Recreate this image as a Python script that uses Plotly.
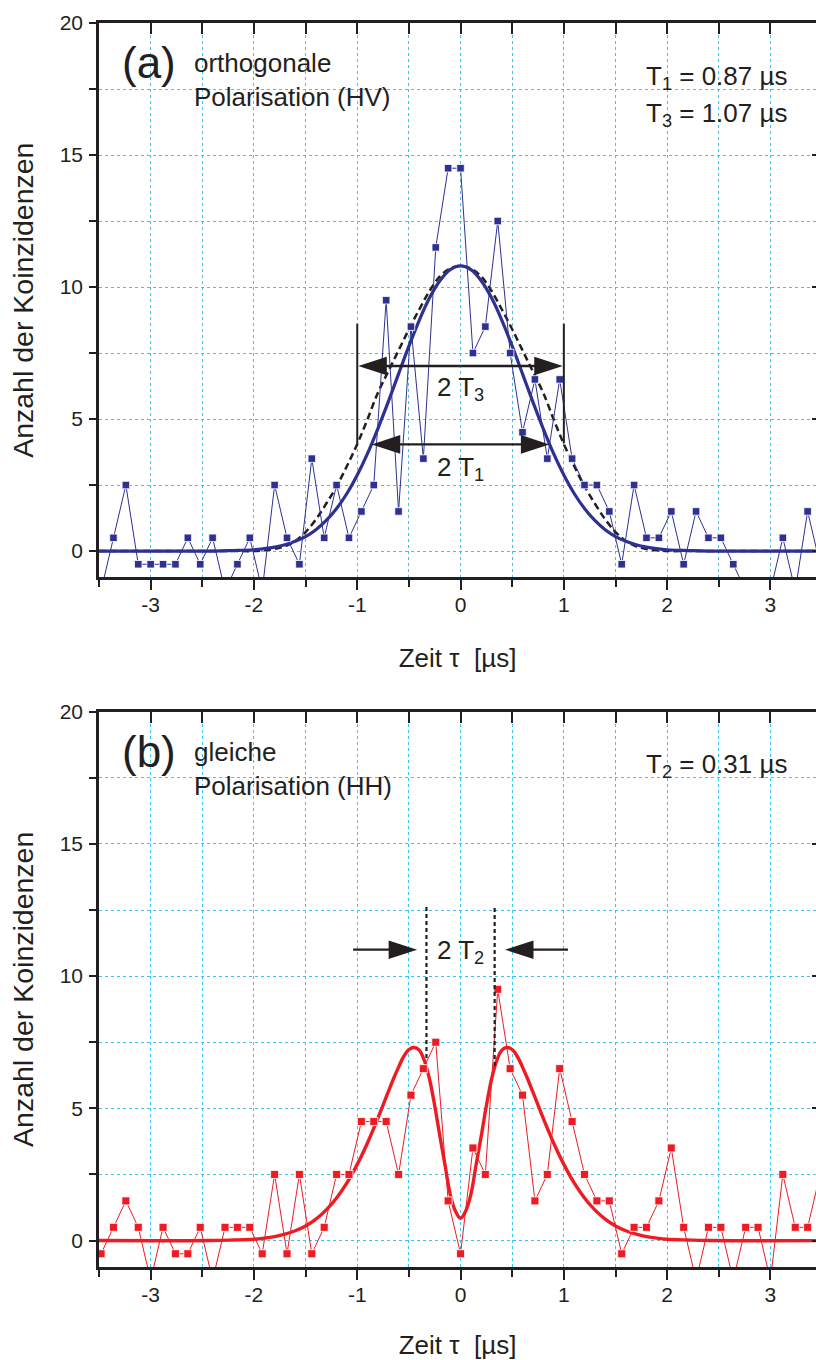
import plotly.graph_objects as go

# ---------------- data ----------------
# bin centres of the coincidence histogram (µs)
tau = [-3.48, -3.36, -3.24, -3.12, -3.00, -2.88, -2.76, -2.64, -2.52, -2.40,
       -2.28, -2.16, -2.04, -1.92, -1.80, -1.68, -1.56, -1.44, -1.32, -1.20,
       -1.08, -0.96, -0.84, -0.72, -0.60, -0.48, -0.36, -0.24, -0.12, 0.00,
       0.12, 0.24, 0.36, 0.48, 0.60, 0.72, 0.84, 0.96, 1.08, 1.20,
       1.32, 1.44, 1.56, 1.68, 1.80, 1.92, 2.04, 2.16, 2.28, 2.40,
       2.52, 2.64, 2.76, 2.88, 3.00, 3.12, 3.24, 3.36, 3.48]

# (a) orthogonal polarisation (HV)
counts_hv = [-1.5, 0.5, 2.5, -0.5, -0.5, -0.5, -0.5, 0.5, -0.5, 0.5,
             -1.5, -0.5, 0.5, -1.5, 2.5, 0.5, -0.5, 3.5, 0.5, 2.5,
             0.5, 1.5, 2.5, 9.5, 1.5, 8.5, 3.5, 11.5, 14.5, 14.5,
             7.5, 8.5, 12.5, 7.5, 4.5, 6.5, 3.5, 6.5, 3.5, 2.5,
             2.5, 1.5, -0.5, 2.5, 0.5, 0.5, 1.5, -0.5, 1.5, 0.5,
             0.5, -0.5, -1.5, -1.5, -1.5, 0.5, -1.5, 1.5, -0.5]

# (b) equal polarisation (HH)
counts_hh = [-0.5, 0.5, 1.5, 0.5, -1.5, 0.5, -0.5, -0.5, 0.5, -1.5,
             0.5, 0.5, 0.5, -0.5, 2.5, -0.5, 2.5, -0.5, 0.5, 2.5,
             2.5, 4.5, 4.5, 4.5, 2.5, 5.5, 6.5, 7.5, 1.5, -0.5,
             3.5, 2.5, 9.5, 6.5, 5.5, 1.5, 2.5, 6.5, 4.5, 2.5,
             1.5, 1.5, -0.5, 0.5, 0.5, 1.5, 3.5, 0.5, -1.5, 0.5,
             0.5, -1.5, 0.5, 0.5, -1.5, 2.5, 0.5, 0.5, 2.5]

# fitted curves
fit_x = [-3.5, -2.4, -2.2, -2.0, -1.9, -1.8, -1.7, -1.6, -1.5, -1.4, -1.3, -1.2,
         -1.1, -1.0, -0.9, -0.8, -0.7, -0.6, -0.5, -0.4, -0.3, -0.2, -0.1, 0.0,
         0.1, 0.2, 0.3, 0.4, 0.5, 0.6, 0.7, 0.8, 0.9, 1.0, 1.1, 1.2,
         1.3, 1.4, 1.5, 1.6, 1.7, 1.8, 1.9, 2.0, 2.2, 2.4, 3.5]
fit_T1 = [0.0, 0.0, 0.02, 0.05, 0.09, 0.15, 0.24, 0.37, 0.55, 0.81, 1.16, 1.61,
          2.18, 2.88, 3.70, 4.64, 5.65, 6.71, 7.76, 8.74, 9.59, 10.24, 10.66, 10.80,
          10.66, 10.24, 9.59, 8.74, 7.76, 6.71, 5.65, 4.64, 3.70, 2.88, 2.18, 1.61,
          1.16, 0.81, 0.55, 0.37, 0.24, 0.15, 0.09, 0.05, 0.02, 0.0, 0.0]
fit_T3 = [0.0, 0.0, 0.0, 0.0, 0.03, 0.08, 0.18, 0.38, 0.72, 1.20, 1.80, 2.45,
          3.22, 4.05, 5.00, 6.00, 6.80, 7.60, 8.40, 9.15, 9.85, 10.40, 10.70, 10.80,
          10.70, 10.40, 9.85, 9.15, 8.40, 7.60, 6.80, 6.00, 5.00, 4.05, 3.22, 2.45,
          1.80, 1.20, 0.72, 0.38, 0.18, 0.08, 0.03, 0.0, 0.0, 0.0, 0.0]

fit_x_hh = [-3.5, -2.4, -2.2, -2.0, -1.9, -1.8, -1.7, -1.6, -1.5, -1.4, -1.3, -1.2,
            -1.1, -1.0, -0.9, -0.8, -0.7, -0.65, -0.6, -0.55, -0.5, -0.45, -0.4, -0.35,
            -0.3, -0.25, -0.2, -0.15, -0.1, -0.05, 0.0, 0.05, 0.1, 0.15, 0.2, 0.25,
            0.3, 0.35, 0.4, 0.45, 0.5, 0.55, 0.6, 0.65, 0.7, 0.8, 0.9, 1.0,
            1.1, 1.2, 1.3, 1.4, 1.5, 1.6, 1.7, 1.8, 1.9, 2.0, 2.2, 2.4, 3.5]
fit_T2 = [0.0, 0.0, 0.02, 0.05, 0.09, 0.15, 0.24, 0.37, 0.55, 0.81, 1.16, 1.61,
          2.18, 2.88, 3.70, 4.63, 5.62, 6.11, 6.56, 6.96, 7.22, 7.30, 7.20, 6.80,
          6.10, 5.10, 3.95, 2.85, 1.75, 1.12, 0.84, 1.12, 1.75, 2.85, 3.95, 5.10,
          6.10, 6.80, 7.20, 7.30, 7.22, 6.96, 6.56, 6.11, 5.62, 4.63, 3.70, 2.88,
          2.18, 1.61, 1.16, 0.81, 0.55, 0.37, 0.24, 0.15, 0.09, 0.05, 0.02, 0.0, 0.0]

# tick labels
xtick_vals = [-3, -2, -1, 0, 1, 2, 3]
xtick_text = ["-3", "-2", "-1", "0", "1", "2", "3"]
ytick_vals = [0, 5, 10, 15, 20]
ytick_text = ["0", "5", "10", "15", "20"]

# annotation geometry (data units)
bar_x = [-1.0, 1.0]
bar_y = [4.08, 8.61]
arrow_T3 = dict(x=[-0.99, 0.99], y=7.01)
arrow_T1 = dict(x=[-0.86, 0.86], y=4.04)
dash_T2_x = [-0.33, 0.33]
dash_T2_y = [[6.9, 12.66], [6.6, 12.66]]
arrow_T2 = dict(tails=[-1.04, 1.04], tips=[-0.42, 0.43], y=11.0)

# ---------------- styling ----------------
BLUE = '#2E3192'
RED = '#ED1C24'
INK = '#231F20'
GRID = '#3CC3EE'
FONT = 'Liberation Sans, Arial, Helvetica, sans-serif'
RANGE_X = [-3.5, 3.441]
RANGE_Y = [-1.0, 20.0]

fig = go.Figure()


def add(tr):
    fig.add_trace(tr)


def arrow(x_from, x_to, y, xa, ya):
    add(go.Scatter(x=[x_from, x_to], y=[y, y], mode='lines+markers', xaxis=xa, yaxis=ya,
                   line=dict(color=INK, width=2.4),
                   marker=dict(symbol='arrow', size=[0, 30], angleref='previous', angle=0,
                               color=INK, opacity=1, line=dict(width=0)),
                   showlegend=False, hoverinfo='skip'))


# ---- panel (a)
add(go.Scatter(x=fit_x, y=fit_T3, mode='lines', xaxis='x', yaxis='y',
               line=dict(color=INK, width=2.5, dash='7px,4px', shape='spline'),
               showlegend=False, hoverinfo='skip'))
add(go.Scatter(x=fit_x, y=fit_T1, mode='lines', xaxis='x', yaxis='y',
               line=dict(color=BLUE, width=3.2, shape='spline'),
               showlegend=False, hoverinfo='skip'))
add(go.Scatter(x=tau, y=counts_hv, mode='lines+markers', xaxis='x', yaxis='y',
               line=dict(color=BLUE, width=1),
               marker=dict(symbol='square', size=7.5, color=BLUE, line=dict(color='white', width=0.8)),
               showlegend=False))
for bx in bar_x:
    add(go.Scatter(x=[bx, bx], y=bar_y, mode='lines', xaxis='x', yaxis='y',
                   line=dict(color=INK, width=2), showlegend=False, hoverinfo='skip'))
for a in (arrow_T3, arrow_T1):
    arrow(0, a['x'][0], a['y'], 'x', 'y')
    arrow(0, a['x'][1], a['y'], 'x', 'y')

# ---- panel (b)
add(go.Scatter(x=fit_x_hh, y=fit_T2, mode='lines', xaxis='x2', yaxis='y2',
               line=dict(color=RED, width=3.4, shape='spline'),
               showlegend=False, hoverinfo='skip'))
add(go.Scatter(x=tau, y=counts_hh, mode='lines+markers', xaxis='x2', yaxis='y2',
               line=dict(color=RED, width=1),
               marker=dict(symbol='square', size=8, color=RED, line=dict(color='white', width=0.8)),
               showlegend=False))
for dx, dy in zip(dash_T2_x, dash_T2_y):
    add(go.Scatter(x=[dx, dx], y=dy, mode='lines', xaxis='x2', yaxis='y2',
                   line=dict(color=INK, width=2.2, dash='4px,3px'), showlegend=False, hoverinfo='skip'))
for t0, t1 in zip(arrow_T2['tails'], arrow_T2['tips']):
    arrow(t0, t1, arrow_T2['y'], 'x2', 'y2')

# dummy traces so that the tick-only overlay axes are drawn
for xa, ya in (('x3', 'y'), ('x', 'y3'), ('x4', 'y2'), ('x2', 'y4')):
    add(go.Scatter(x=[None], y=[None], xaxis=xa, yaxis=ya, showlegend=False, hoverinfo='skip'))

tickfont = dict(family=FONT, size=21, color=INK)
titlefont = dict(family=FONT, size=26, color=INK)


def xaxis_main(anchor):
    return dict(anchor=anchor, domain=[0, 1], range=RANGE_X,
                showline=True, linecolor=INK, linewidth=2.5, mirror=True,
                ticks='outside', ticklen=10, tickwidth=2, tickcolor=INK,
                tickmode='array', tickvals=xtick_vals, ticktext=xtick_text,
                tickfont=tickfont, ticklabelstandoff=-3,
                showgrid=True, gridcolor=GRID, griddash='dot', gridwidth=1.2,
                zeroline=False,
                minor=dict(tick0=0, dtick=0.5, ticks='outside', ticklen=7, tickwidth=2,
                           tickcolor=INK, showgrid=True, gridcolor=GRID, griddash='dot',
                           gridwidth=1.2),
                title=dict(text='Zeit τ\u00a0 [µs]', font=titlefont, standoff=34))


def yaxis_main(anchor, domain):
    return dict(anchor=anchor, domain=domain, range=RANGE_Y,
                showline=True, linecolor=INK, linewidth=2.5,
                ticks='outside', ticklen=7, tickwidth=2, tickcolor=INK,
                tickmode='array', tickvals=ytick_vals, ticktext=ytick_text,
                tickfont=tickfont, ticklabelstandoff=2,
                showgrid=True, gridcolor=GRID, griddash='dot', gridwidth=1.2,
                zeroline=False,
                minor=dict(tick0=0, dtick=2.5, ticks='outside', ticklen=7, tickwidth=2,
                           tickcolor=INK, showgrid=True, gridcolor=GRID, griddash='dot',
                           gridwidth=1.2),
                title=dict(text='Anzahl der Koinzidenzen', font=dict(family=FONT, size=28.5, color=INK),
                           standoff=18))


def xaxis_top(over, anchor):
    return dict(overlaying=over, anchor=anchor, side='top', range=RANGE_X,
                showline=False, ticks='inside', ticklen=11, tickwidth=2, tickcolor=INK,
                tickmode='linear', tick0=0, dtick=0.5, showticklabels=False,
                showgrid=False, zeroline=False)


def yaxis_right(over, anchor):
    return dict(overlaying=over, anchor=anchor, side='right', range=RANGE_Y,
                showline=False, ticks='inside', ticklen=4, tickwidth=2, tickcolor=INK,
                tickmode='linear', tick0=0, dtick=5, showticklabels=False,
                showgrid=False, zeroline=False)


TOP_DOM = [0.5543, 1.0]
BOT_DOM = [0.0, 0.4464]

fig.update_layout(
    width=816, height=1360,
    margin=dict(l=99, r=0, t=23, b=93),
    paper_bgcolor='white', plot_bgcolor='white',
    font=dict(family=FONT, color=INK),
    showlegend=False,
    xaxis=xaxis_main('y'), yaxis=yaxis_main('x', TOP_DOM),
    xaxis2=xaxis_main('y2'), yaxis2=yaxis_main('x2', BOT_DOM),
    xaxis3=xaxis_top('x', 'y'), yaxis3=yaxis_right('y', 'x'),
    xaxis4=xaxis_top('x2', 'y2'), yaxis4=yaxis_right('y2', 'x2'),
)

txt = dict(family=FONT, size=26, color=INK)
big = dict(family=FONT, size=44, color=INK)
ann = []
for xr, yr, label, desc, temps in (
        ('x', 'y', '(a)', 'orthogonale<br>Polarisation (HV)',
         ['T<sub>1</sub> = 0.87 µs', 'T<sub>3</sub> = 1.07 µs']),
        ('x2', 'y2', '(b)', 'gleiche<br>Polarisation (HH)',
         ['T<sub>2</sub> = 0.31 µs'])):
    ann.append(dict(xref=xr, yref=yr, x=-3.30, y=18.5, text=label, font=big,
                    xanchor='left', yanchor='middle', showarrow=False))
    ann.append(dict(xref=xr, yref=yr, x=-2.60, y=17.85, text=desc, font=txt, align='left',
                    xanchor='left', yanchor='middle', showarrow=False))
    for i, t in enumerate(temps):
        ann.append(dict(xref=xr, yref=yr, x=1.775, y=[17.95, 16.52][i], text=t, font=txt,
                        xanchor='left', yanchor='middle', showarrow=False))

ann.append(dict(xref='x', yref='y', x=0, y=6.15, text='2 T<sub>3</sub>', font=txt,
                xanchor='center', yanchor='middle', showarrow=False))
ann.append(dict(xref='x', yref='y', x=0, y=3.12, text='2 T<sub>1</sub>', font=txt,
                xanchor='center', yanchor='middle', showarrow=False))
ann.append(dict(xref='x2', yref='y2', x=0, y=10.92, text='2 T<sub>2</sub>', font=txt,
                xanchor='center', yanchor='middle', showarrow=False))
fig.update_layout(annotations=ann)

fig.write_html("out.html")
